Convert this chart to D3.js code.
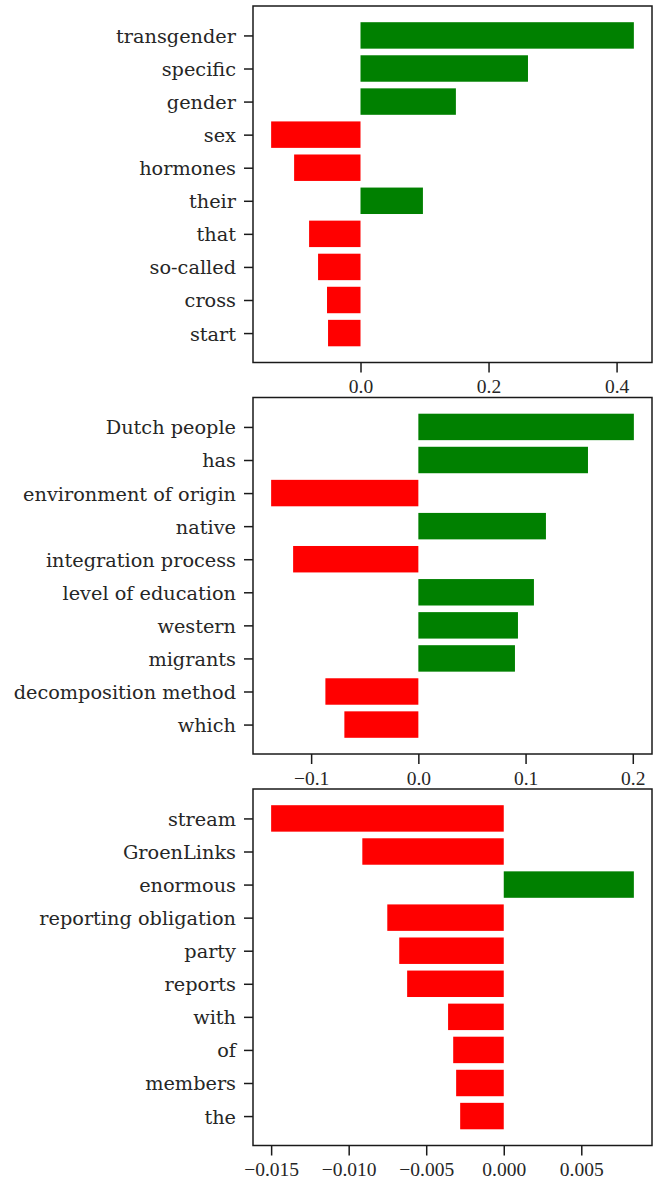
<!DOCTYPE html>
<html>
<head>
<meta charset="utf-8">
<script src="https://cdn.jsdelivr.net/npm/d3@7"></script>
<style>
  body { margin: 0; background: #fff; }
  svg { display: block; }
</style>
</head>
<body>
<script>
// ---- Data ----
const words1 = ["transgender", "specific", "gender", "sex", "hormones", "their", "that", "so-called", "cross", "start"];
const values1 = [0.427, 0.2616, 0.149, -0.1396, -0.1037, 0.0975, -0.0803, -0.0663, -0.0523, -0.0507];
const ticks1 = [0.0, 0.2, 0.4];

const words2 = ["Dutch people", "has", "environment of origin", "native", "integration process", "level of education", "western", "migrants", "decomposition method", "which"];
const values2 = [0.2010, 0.1582, -0.1373, 0.1190, -0.1168, 0.1078, 0.0929, 0.0901, -0.0867, -0.0690];
const ticks2 = [-0.1, 0.0, 0.1, 0.2];

const words3 = ["stream", "GroenLinks", "enormous", "reporting obligation", "party", "reports", "with", "of", "members", "the"];
const values3 = [-0.0150, -0.00912, 0.00839, -0.00751, -0.00674, -0.00623, -0.00359, -0.00326, -0.00307, -0.00281];
const ticks3 = [-0.015, -0.010, -0.005, 0.000, 0.005];

const panels = [
  { words: words1, values: values1, ticks: ticks1, fmt: ".1f", top: 6 },
  { words: words2, values: values2, ticks: ticks2, fmt: ".1f", top: 397.5 },
  { words: words3, values: values3, ticks: ticks3, fmt: ".3f", top: 789 }
];

const W = 655, H = 1179;
const left = 253, right = 652, ph = 356.5;
const textColor = "#262626";

const svg = d3.select("body").append("svg").attr("width", W).attr("height", H);

panels.forEach(p => {
  const mn = Math.min(0, d3.min(p.values)), mx = Math.max(0, d3.max(p.values));
  const pad = 0.05 * (mx - mn);
  const x = d3.scaleLinear().domain([mn - pad, mx + pad]).range([left, right]);
  const n = p.words.length;
  const ylo = -0.4 - 0.05 * (n - 1 + 0.8), yhi = n - 1 + 0.4 + 0.05 * (n - 1 + 0.8);
  const y = d3.scaleLinear().domain([ylo, yhi]).range([p.top, p.top + ph]);

  const g = svg.append("g");

  g.selectAll("rect.bar").data(p.values).enter().append("rect")
    .attr("class", "bar")
    .attr("x", d => x(Math.min(0, d)))
    .attr("width", d => Math.abs(x(d) - x(0)))
    .attr("y", (d, i) => y(i - 0.4))
    .attr("height", (d, i) => y(i + 0.4) - y(i - 0.4))
    .attr("fill", d => d >= 0 ? "#008000" : "#ff0000");

  // frame
  g.append("rect")
    .attr("x", left).attr("y", p.top)
    .attr("width", right - left).attr("height", ph)
    .attr("fill", "none").attr("stroke", "#1a1a1a").attr("stroke-width", 1.5);

  // y axis
  const yAxis = d3.axisLeft(y).tickValues(d3.range(n)).tickSize(9).tickPadding(8)
    .tickFormat(i => p.words[i]);
  const ya = g.append("g").attr("transform", `translate(${left},0)`).call(yAxis);
  ya.select(".domain").remove();
  ya.selectAll(".tick line").attr("stroke", "#1a1a1a").attr("stroke-width", 1.5);
  ya.selectAll(".tick text")
    .attr("fill", textColor)
    .style("font-family", "'DejaVu Serif', serif")
    .style("font-size", "19.3px")
    .attr("dy", "0.36em");

  // x axis
  const xAxis = d3.axisBottom(x).tickValues(p.ticks).tickSize(10).tickPadding(7)
    .tickFormat(d3.format(p.fmt));
  const xa = g.append("g").attr("transform", `translate(0,${p.top + ph})`).call(xAxis);
  xa.select(".domain").remove();
  xa.selectAll(".tick line").attr("stroke", "#1a1a1a").attr("stroke-width", 1.5);
  xa.selectAll(".tick text")
    .attr("fill", textColor)
    .style("font-family", "'Liberation Serif', 'Times New Roman', serif")
    .style("font-size", "19.5px");
});
</script>
</body>
</html>
